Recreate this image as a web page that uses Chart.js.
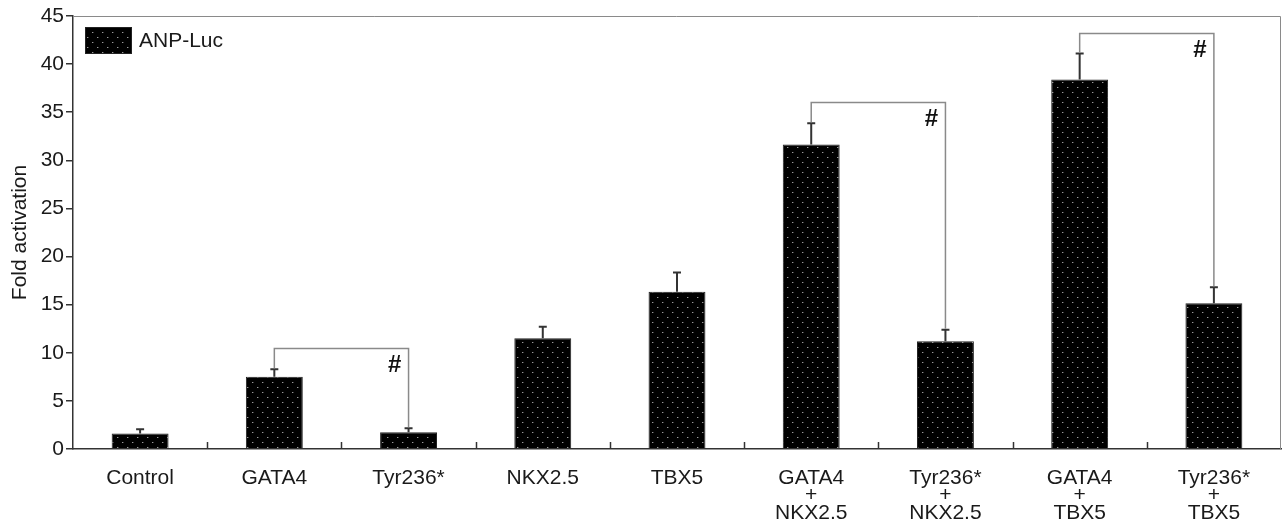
<!DOCTYPE html>
<html>
<head>
<meta charset="utf-8">
<script src="https://cdn.jsdelivr.net/npm/chart.js@4/dist/chart.umd.min.js"></script>
<style>
  html, body { margin: 0; padding: 0; background: #fff; }
  canvas { display: block; }
</style>
</head>
<body>
<canvas id="chart" width="1282" height="521"></canvas>
<script>
// data
const categories = ['Control', 'GATA4', 'Tyr236*', 'NKX2.5', 'TBX5',
  ['GATA4', '+', 'NKX2.5'], ['Tyr236*', '+', 'NKX2.5'],
  ['GATA4', '+', 'TBX5'], ['Tyr236*', '+', 'TBX5']];
const foldValues = [1.6, 7.5, 1.75, 11.5, 16.35, 31.65, 11.2, 38.4, 15.15];
const foldErrors = [0.45, 0.8, 0.4, 1.2, 2.0, 2.2, 1.2, 2.7, 1.65];
const yTicks = [0, 5, 10, 15, 20, 25, 30, 35, 40, 45];

// significance brackets (#)
const bracketFrom = [1, 5, 7];
const bracketTo = [2, 6, 8];
const bracketLevel = [10.5, 36.1, 43.2];

const FONT = "'Liberation Sans', Arial, Helvetica, sans-serif";
const DARK = '#1a1a1a';

// black fill with small grey dots
const makeDots = () => {
  const c = document.createElement('canvas');
  c.width = 10; c.height = 10;
  const g = c.getContext('2d');
  g.fillStyle = '#000';
  g.fillRect(0, 0, 10, 10);
  g.fillStyle = '#9a9a9a';
  g.fillRect(2, 2, 1, 1);
  g.fillRect(7, 7, 1, 1);
  g.fillStyle = '#3a3a3a';
  g.fillRect(3, 2, 1, 1);
  g.fillRect(8, 7, 1, 1);
  return g.createPattern(c, 'repeat');
};
const dots = makeDots();

// error whiskers, brackets, frame, inward x ticks and the legend
const extras = {
  id: 'extras',
  afterDatasetsDraw(chart) {
    const ctx = chart.ctx;
    const x = chart.scales.x, y = chart.scales.y;
    const area = chart.chartArea;
    ctx.save();

    // frame top / right
    ctx.strokeStyle = '#8a8a8a';
    ctx.lineWidth = 1;
    ctx.beginPath();
    ctx.moveTo(area.left, area.top + 0.5);
    ctx.lineTo(area.right - 0.5, area.top + 0.5);
    ctx.lineTo(area.right - 0.5, area.bottom);
    ctx.stroke();

    // x ticks pointing up, between categories
    const step = x.getPixelForValue(1) - x.getPixelForValue(0);
    ctx.strokeStyle = '#333';
    ctx.lineWidth = 1.5;
    for (let i = 1; i < categories.length; i++) {
      const px = Math.round(x.getPixelForValue(i) - step / 2) + 0.5;
      ctx.beginPath();
      ctx.moveTo(px, area.bottom);
      ctx.lineTo(px, area.bottom - 7);
      ctx.stroke();
    }

    // error bars (upper only)
    ctx.strokeStyle = '#333';
    foldValues.forEach((v, i) => {
      const px = x.getPixelForValue(i);
      const top = y.getPixelForValue(v + foldErrors[i]);
      ctx.lineWidth = 2;
      ctx.beginPath();
      ctx.moveTo(px, y.getPixelForValue(v));
      ctx.lineTo(px, top);
      ctx.moveTo(px - 4, top);
      ctx.lineTo(px + 4, top);
      ctx.stroke();
    });

    // brackets
    bracketFrom.forEach((a, k) => {
      const b = bracketTo[k];
      const xa = x.getPixelForValue(a), xb = x.getPixelForValue(b);
      const yl = Math.round(y.getPixelForValue(bracketLevel[k])) + 0.5;
      ctx.strokeStyle = '#8a8a8a';
      ctx.lineWidth = 1.5;
      ctx.beginPath();
      ctx.moveTo(xa, y.getPixelForValue(foldValues[a] + foldErrors[a]) - 1);
      ctx.lineTo(xa, yl);
      ctx.lineTo(xb, yl);
      ctx.lineTo(xb, y.getPixelForValue(foldValues[b] + foldErrors[b]) - 1);
      ctx.stroke();
      ctx.fillStyle = '#111';
      ctx.font = 'bold 24px ' + FONT;
      ctx.textAlign = 'center';
      ctx.textBaseline = 'middle';
      ctx.fillText('#', xb - 14, yl + 17);
    });

    // legend inside the plot, top-left
    const lx = area.left + 12, ly = area.top + 11;
    ctx.fillStyle = dots;
    ctx.fillRect(lx, ly, 47, 27);
    ctx.strokeStyle = '#222';
    ctx.lineWidth = 1;
    ctx.strokeRect(lx + 0.5, ly + 0.5, 46, 26);
    ctx.fillStyle = DARK;
    ctx.font = '21px ' + FONT;
    ctx.textAlign = 'left';
    ctx.textBaseline = 'middle';
    ctx.fillText(chart.data.datasets[0].label, lx + 54, ly + 14);

    ctx.restore();
  }
};

const ctx = document.getElementById('chart').getContext('2d');
const foldChart = new Chart(ctx, {
  type: 'bar',
  data: {
    labels: categories,
    datasets: [{
      label: 'ANP-Luc',
      data: foldValues,
      backgroundColor: dots,
      borderColor: '#222',
      borderWidth: 1,
      categoryPercentage: 1,
      barPercentage: 0.424
    }]
  },
  options: {
    responsive: false,
    animation: false,
    layout: { padding: { top: 16, right: 1, left: 0, bottom: 0 } },
    plugins: {
      legend: { display: false },
      tooltip: { enabled: false }
    },
    scales: {
      x: {
        grid: { display: false, drawTicks: false },
        border: { display: true, color: '#333', width: 1.5 },
        ticks: {
          color: DARK,
          font: { family: FONT, size: 21, lineHeight: 0.84 },
          padding: 20,
          maxRotation: 0,
          autoSkip: false
        },
        afterFit(scale) { scale.height = 72; }
      },
      y: {
        min: 0,
        max: 45,
        afterBuildTicks(scale) { scale.ticks = yTicks.map(v => ({ value: v })); },
        grid: { drawOnChartArea: false, tickLength: 7, color: '#333', lineWidth: 1.5 },
        border: { display: true, color: '#333', width: 1.5 },
        ticks: {
          color: DARK,
          font: { family: FONT, size: 21 },
          padding: 2
        },
        title: {
          display: true,
          text: 'Fold activation',
          color: DARK,
          font: { family: FONT, size: 21 },
          padding: { top: 8, bottom: 0 }
        },
        afterFit(scale) { scale.width = 73; }
      }
    }
  },
  plugins: [extras]
});
</script>
</body>
</html>
